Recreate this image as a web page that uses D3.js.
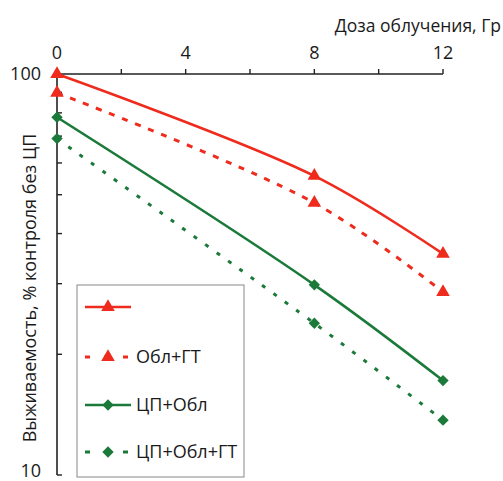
<!DOCTYPE html>
<html><head><meta charset="utf-8">
<script src="https://cdn.jsdelivr.net/npm/d3@7"></script>
<style>
body{margin:0;background:#fff;}
text{font-family:"Open Sans",sans-serif;fill:#1a1a1a;}
</style></head><body>
<svg id="c" width="503" height="481"></svg>
<script>
const doses = [0, 8, 12];
const xTicksMajor = [0, 4, 8, 12];
const xTicksMinor = [0, 2, 4, 6, 8, 10, 12];
const yTickLabels = [10, 100];
const yTicksMinor = [20, 30, 40, 50, 60, 70, 80, 90];
const seriesNames = ["", "Обл+ГТ", "ЦП+Обл", "ЦП+Обл+ГТ"];
const valsObl = [100, 55.7, 35.6];
const valsOblGT = [89.7, 47.7, 28.6];
const valsCPObl = [78, 29.8, 17.2];
const valsCPOblGT = [69, 23.9, 13.7];
const xTitle = "Доза облучения, Гр";
const yTitle = "Выживаемость, % контроля без ЦП";

const RED = "#ee2b1d", GREEN = "#1b7a3a";
const series = [
  {name: seriesNames[0], vals: valsObl, color: RED, dash: null, marker: "tri"},
  {name: seriesNames[1], vals: valsOblGT, color: RED, dash: "6,8", marker: "tri"},
  {name: seriesNames[2], vals: valsCPObl, color: GREEN, dash: null, marker: "dia"},
  {name: seriesNames[3], vals: valsCPOblGT, color: GREEN, dash: "4,10", marker: "dia"}
];

const svg = d3.select("#c");
const x = d3.scaleLinear().domain([0, 12]).range([57, 443]);
const y = d3.scaleLog().domain([10, 100]).range([475, 74]);

// x axis (top)
const gx = svg.append("g").attr("transform", `translate(0,${y(100)})`);
gx.append("line").attr("x1", x(0)).attr("x2", x(12)).attr("stroke", "#222").attr("stroke-width", 1.6);
gx.selectAll(".xt").data(xTicksMinor).join("line")
  .attr("x1", d => x(d)).attr("x2", d => x(d)).attr("y1", 0).attr("y2", -5)
  .attr("stroke", "#222").attr("stroke-width", 1.4);
gx.selectAll(".xl").data(xTicksMajor).join("text")
  .attr("x", d => x(d)).attr("y", -15).attr("text-anchor", "middle")
  .attr("font-size", 18).text(d => d);
svg.append("text").attr("x", 501).attr("y", 32).attr("text-anchor", "end")
  .attr("font-size", 17.5).text(xTitle);

// y axis
const gy = svg.append("g").attr("transform", `translate(${x(0)},0)`);
gy.append("line").attr("y1", y(100)).attr("y2", y(10)).attr("stroke", "#222").attr("stroke-width", 1.6);
gy.selectAll(".yt").data(yTicksMinor.concat([10])).join("line")
  .attr("x1", 0).attr("x2", 5).attr("y1", d => y(d)).attr("y2", d => y(d))
  .attr("stroke", "#222").attr("stroke-width", 1.4);
gy.selectAll(".yl").data(yTickLabels).join("text")
  .attr("x", -16).attr("y", d => Math.min(y(d), 471)).attr("dy", "0.36em").attr("text-anchor", "end")
  .attr("font-size", 18).text(d => d);
svg.append("text").attr("transform", `translate(36,${288}) rotate(-90)`)
  .attr("text-anchor", "middle").attr("font-size", 18).text(yTitle);

// legend box
const lg = svg.append("g");
lg.append("rect").attr("x", 77).attr("y", 285).attr("width", 167).attr("height", 192)
  .attr("fill", "#fff").attr("stroke", "#888").attr("stroke-width", 1);

const triPath = d3.symbol().type(d3.symbolTriangle).size(80);
const diaPath = d3.symbol().type(d3.symbolSquare).size(64);
function drawMarker(g, m, cx, cy, color) {
  if (m === "tri") {
    g.append("path").attr("d", triPath()).attr("transform", `translate(${cx},${cy})`).attr("fill", color);
  } else {
    g.append("path").attr("d", diaPath()).attr("transform", `translate(${cx},${cy}) rotate(45)`).attr("fill", color);
  }
}

const line = d3.line().x((d, i) => x(doses[i])).y(d => y(d)).curve(d3.curveCatmullRom.alpha(0.5));
series.forEach(s => {
  svg.append("path").attr("d", line(s.vals)).attr("fill", "none")
    .attr("stroke", s.color).attr("stroke-width", s.dash ? 3 : 2.6)
    .attr("stroke-dasharray", s.dash);
  s.vals.forEach((v, i) => drawMarker(svg, s.marker, x(doses[i]), y(v), s.color));
});

const legY = [307, 357, 405, 452];
series.forEach((s, i) => {
  const g = lg.append("g");
  g.append("line").attr("x1", 85).attr("x2", 131).attr("y1", legY[i]).attr("y2", legY[i])
    .attr("stroke", s.color).attr("stroke-width", s.dash ? 3 : 2.6)
    .attr("stroke-dasharray", s.dash ? "5,14" : null);
  drawMarker(g, s.marker, 108, legY[i], s.color);
  g.append("text").attr("x", 136).attr("y", legY[i]).attr("dy", "0.36em")
    .attr("font-size", 18).text(s.name);
});
</script></body></html>
